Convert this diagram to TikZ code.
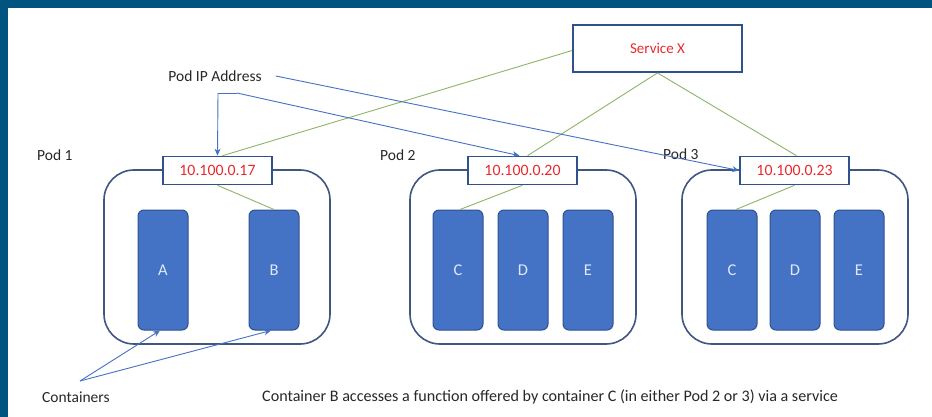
\documentclass[tikz,border=0pt]{standalone}
\usepackage{fontspec}
\setmainfont{Carlito}
\usetikzlibrary{arrows.meta,calc}

\definecolor{frameblue}{RGB}{0,84,128}
\definecolor{boxfill}{RGB}{68,114,196}
\definecolor{boxline}{RGB}{47,82,143}
\definecolor{podline}{RGB}{62,86,128}
\definecolor{ipred}{RGB}{232,42,48}
\definecolor{linkgreen}{RGB}{140,182,102}
\definecolor{arrowblue}{RGB}{68,114,196}
\definecolor{lettercol}{RGB}{222,232,248}
\definecolor{labelgrey}{RGB}{40,40,40}

\tikzset{
  txt/.style={font=\fontsize{15.5}{18}\selectfont, text=labelgrey, inner sep=0pt},
  podbox/.style={draw=podline, line width=1.6pt, rounded corners=30pt,
    minimum width=226pt, minimum height=174pt, inner sep=0pt},
  ipbox/.style={draw=boxline, fill=white, line width=1.6pt,
    minimum width=109pt, minimum height=28pt, inner sep=0pt,
    font=\fontsize{15.8}{18}\selectfont, text=ipred},
  svcbox/.style={draw=boxline, fill=white, line width=1.8pt,
    minimum width=169pt, minimum height=47pt, inner sep=0pt,
    font=\fontsize{15}{18}\selectfont, text=ipred},
  ctr/.style={draw=boxline, fill=boxfill, line width=1pt, rounded corners=6pt,
    minimum width=50pt, minimum height=120pt, inner sep=0pt,
    font=\fontsize{16.5}{18}\selectfont, text=lettercol},
  glink/.style={draw=linkgreen, line width=0.9pt},
  blink/.style={draw=arrowblue, line width=0.9pt,
    -{Stealth[length=7pt,width=6pt]}},
  bline/.style={draw=arrowblue, line width=0.9pt},
}

\begin{document}
\begin{tikzpicture}[x=1pt,y=-1pt]
  \useasboundingbox (0,0) rectangle (932,417);
  \fill[white] (0,0) rectangle (932,417);
  % dark frame along the top and left edges
  \fill[frameblue] (0,0) rectangle (932,8);
  \fill[frameblue] (0,0) rectangle (8,417);

  % pods
  \node[podbox] (pod1) at (217,257) {};
  \node[podbox] (pod2) at (523,257) {};
  \node[podbox] (pod3) at (795,257) {};

  % pod labels
  \node[txt, anchor=west] (l1) at (37,155) {Pod 1};
  \node[txt, anchor=west] (l2) at (380,155) {Pod 2};
  \node[txt, anchor=west] (l3) at (663,154) {Pod 3};

  % containers
  \node[ctr] (a1) at (163,270) {A};
  \node[ctr] (b1) at (274,270) {B};
  \node[ctr] (c2) at (458,270) {C};
  \node[ctr] (d2) at (523,270) {D};
  \node[ctr] (e2) at (588,270) {E};
  \node[ctr] (c3) at (732,270) {C};
  \node[ctr] (d3) at (795,270) {D};
  \node[ctr] (e3) at (859,270) {E};

  % service
  \node[svcbox] (svc) at (657.5,48.5) {Service X};

  % pod IP boxes sitting on the pod outlines
  \node[ipbox] (ip1) at (217.5,170.5) {10.100.0.17};
  \node[ipbox] (ip2) at (522.5,170.5) {10.100.0.20};
  \node[ipbox] (ip3) at (794.5,170.5) {10.100.0.23};

  % links inside the pods
  \draw[glink] (ip1.south) -- (b1.north);
  \draw[glink] (ip2.south) -- ([xshift=2pt]c2.north);
  \draw[glink] (ip3.south) -- ([xshift=4pt]c3.north);

  % service links
  \draw[glink] ([yshift=-2pt]svc.west) -- ([xshift=5pt]ip1.north);
  \draw[glink] (svc.south) -- ([xshift=5pt]ip2.north);
  \draw[glink] (svc.south) -- ([xshift=2pt]ip3.north);

  % pod IP address callouts
  \node[txt] (pip) at (215,76) {Pod IP Address};
  \coordinate (pipk) at (218,93);
  \coordinate (pipb) at (237,93);
  \draw[blink] (pipk) -- (ip1.north);
  \draw[bline] (pipk) -- (pipb);
  \draw[blink] (pipb) -- ([xshift=-3pt]ip2.north);
  \draw[blink] ([xshift=14pt]pip.east) -- (ip3.west);

  % container callouts
  \node[txt, anchor=west] (cl) at (42,397) {Containers};
  \coordinate (clk) at (80,381);
  \draw[blink] (clk) -- ([xshift=-3pt]a1.south);
  \draw[blink] (clk) -- ([xshift=-3pt]b1.south);

  % caption
  \node[txt, anchor=west, font=\fontsize{16.1}{18}\selectfont] (cap) at (262,397)
    {Container B accesses a function offered by container C (in either Pod 2 or 3) via a service};
\end{tikzpicture}
\end{document}
